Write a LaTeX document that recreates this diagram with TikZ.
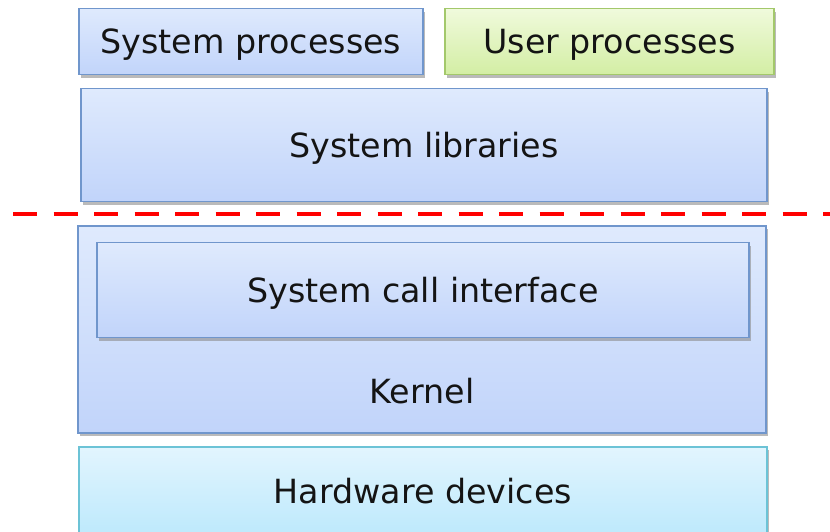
\documentclass[tikz,border=0pt]{standalone}
\usepackage{fontspec}
\setmainfont{DejaVu Sans}
\usetikzlibrary{shadows}

\definecolor{blueTop}{HTML}{DFEAFD}
\definecolor{blueBot}{HTML}{C1D4FA}
\definecolor{blueLine}{HTML}{7096CC}
\definecolor{greenTop}{HTML}{F0FADC}
\definecolor{greenBot}{HTML}{D3EEA4}
\definecolor{greenLine}{HTML}{A3C86B}
\definecolor{cyanTop}{HTML}{E2F5FE}
\definecolor{cyanBot}{HTML}{BDE9FC}
\definecolor{cyanLine}{HTML}{6CC3D6}
\definecolor{sepRed}{HTML}{FF0000}

\tikzset{
  label text/.style={font=\fontsize{33.3}{40}\selectfont, text=black!92,
    text height=24.3pt, text depth=0pt},
  layer/.style={rectangle, line width=1.5pt, inner sep=0pt, label text,
    drop shadow={shadow xshift=2pt, shadow yshift=-3pt, fill=black!45, opacity=0.6}},
  bluebox/.style={layer, draw=blueLine, top color=blueTop, bottom color=blueBot},
  greenbox/.style={layer, draw=greenLine, top color=greenTop, bottom color=greenBot},
  cyanbox/.style={layer, draw=cyanLine, top color=cyanTop, bottom color=cyanBot},
  separator/.style={draw=sepRed, line width=4pt, dash pattern=on 24pt off 16.5pt}
}

\begin{document}
\begin{tikzpicture}[x=1pt, y=-1pt]
  \useasboundingbox (0,0) rectangle (830,531);
  \clip (0,0) rectangle (830,531);

  % user space
  \node[bluebox, minimum width=344pt, minimum height=66pt] (sysproc) at (251,41.5) {System processes};
  \node[greenbox, minimum width=329pt, minimum height=66pt] (userproc) at (609.5,41.5) {User processes};
  \node[bluebox, minimum width=686pt, minimum height=113pt] (syslib) at (424,145) {System libraries};

  % user/kernel boundary
  \coordinate (sepL) at (13,214);
  \coordinate (sepR) at (840,214);
  \draw[separator] (sepL) -- (sepR);

  % kernel space
  \node[bluebox, minimum width=688pt, minimum height=207pt] (kernel) at (422,329.5) {};
  \node[label text] (kernlabel) at (422,391) {Kernel};
  \node[bluebox, minimum width=652pt, minimum height=95pt] (sci) at (423,290) {System call interface};

  % hardware
  \node[cyanbox, minimum width=688pt, minimum height=88pt] (hw) at (423,491) {Hardware devices};
\end{tikzpicture}
\end{document}
